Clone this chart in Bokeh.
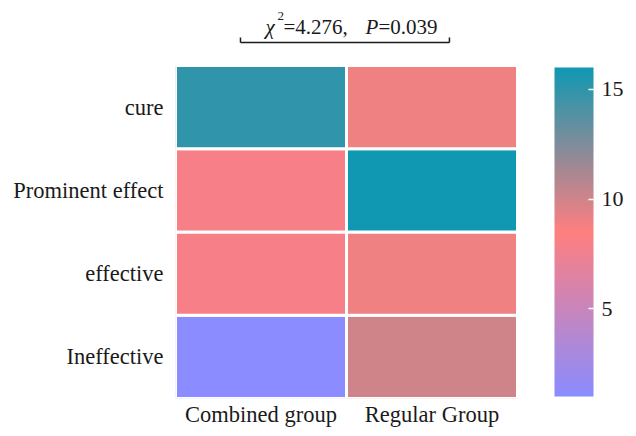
import numpy as np
from bokeh.plotting import figure
from bokeh.models import (LinearColorMapper, ColorBar, FixedTicker, Label, Arrow,
                          ColumnDataSource, Range1d)
from bokeh.embed import file_html
from bokeh.resources import INLINE

# ---------------- data ----------------
groups = ["Combined group", "Regular Group"]
outcomes = ["Ineffective", "effective", "Prominent effect", "cure"]  # bottom -> top
combined = [1, 8, 8, 15]
regular = [10, 9, 16, 9]
cbar_ticks = [5, 10, 15]
cbar_low, cbar_high = 1, 16
stat_chi = "=4.276,"
stat_p = "=0.039"

# ---------------- palette (blue-violet -> salmon -> teal) ----------------
anchor_vals = [cbar_low, 8.5, cbar_high]
anchor_rgb = [(138, 140, 255), (255, 127, 128), (16, 152, 178)]
grid = np.linspace(cbar_low, cbar_high, 256)
chan = [np.interp(grid, anchor_vals, [c[i] for c in anchor_rgb]) for i in range(3)]
palette = ["#%02x%02x%02x" % (int(round(r)), int(round(g)), int(round(b)))
           for r, g, b in zip(*chan)]
mapper = LinearColorMapper(palette=palette, low=cbar_low, high=cbar_high)

xs, ys, vs = [], [], []
for gi, col in enumerate([combined, regular]):
    for oi, v in enumerate(col):
        xs.append(gi + 0.5); ys.append(oi + 0.5); vs.append(v)
src = ColumnDataSource(dict(x=xs, y=ys, v=vs))

FONT = "Liberation Serif"
W, H = 636, 436
LEFT, BOTTOM = 175, 38
# heatmap cells occupy 342 x 333 px; extra room above/right for annotations
x_end = len(groups) * (W - LEFT) / 342.0
y_end = len(outcomes) * (H - BOTTOM) / 333.0

p = figure(width=W, height=H, x_range=Range1d(0, x_end), y_range=Range1d(0, y_end),
           output_backend="svg", toolbar_location=None,
           min_border_left=LEFT, min_border_right=0,
           min_border_top=0, min_border_bottom=BOTTOM)
p.rect(x="x", y="y", width=1, height=1, source=src,
       fill_color={"field": "v", "transform": mapper},
       line_color="white", line_width=3)

p.outline_line_color = None
p.xgrid.grid_line_color = None
p.ygrid.grid_line_color = None
p.xaxis.ticker = FixedTicker(ticks=[i + 0.5 for i in range(len(groups))])
p.xaxis.major_label_overrides = {i + 0.5: g for i, g in enumerate(groups)}
p.yaxis.ticker = FixedTicker(ticks=[i + 0.5 for i in range(len(outcomes))])
p.yaxis.major_label_overrides = {i + 0.5: o for i, o in enumerate(outcomes)}
for ax in (p.xaxis[0], p.yaxis[0]):
    ax.axis_line_color = None
    ax.major_tick_line_color = None
    ax.minor_tick_line_color = None
    ax.major_tick_in = 0
    ax.major_tick_out = 0
    ax.minor_tick_in = 0
    ax.minor_tick_out = 0
    ax.major_label_text_font = FONT
    ax.major_label_text_font_size = "22.5px"
    ax.major_label_text_color = "#1a1a1a"
p.xaxis.major_label_standoff = 3
p.yaxis.major_label_standoff = 12

cb = ColorBar(color_mapper=mapper, ticker=FixedTicker(ticks=cbar_ticks),
              width=39, height=329, padding=0, margin=0,
              location=(379, 2),
              major_label_text_font=FONT, major_label_text_font_size="22px",
              major_label_text_color="#1a1a1a",
              major_tick_line_color="white", major_tick_line_width=1.5,
              major_tick_in=5, major_tick_out=0,
              minor_tick_line_color=None,
              bar_line_color=None, border_line_color=None,
              background_fill_color=None, label_standoff=8)
p.add_layout(cb)

# statistics annotation above the heatmap
top = len(outcomes)
common = dict(x=0, y=top, text_font=FONT, text_color="#1a1a1a",
              text_baseline="alphabetic", text_align="left")
p.add_layout(Label(text="χ", x_offset=90, y_offset=39, text_font_size="21px",
                   text_font_style="italic", **common))
p.add_layout(Label(text="2", x_offset=102, y_offset=50, text_font_size="13px", **common))
p.add_layout(Label(text=stat_chi, x_offset=108, y_offset=39, text_font_size="21px", **common))
p.add_layout(Label(text="P", x_offset=190, y_offset=39, text_font_size="21px",
                   text_font_style="italic", **common))
p.add_layout(Label(text=stat_p, x_offset=203, y_offset=39, text_font_size="21px", **common))

br = ColumnDataSource(dict(x0=[0.38, 0.38, 1.602], y0=[4.276, 4.276, 4.276],
                           x1=[1.602, 0.38, 1.602], y1=[4.276, 4.336, 4.336]))
p.add_layout(Arrow(end=None, source=br, x_start="x0", y_start="y0",
                   x_end="x1", y_end="y1", line_color="#1a1a1a", line_width=1.5))

open("out.html", "w").write(file_html(p, INLINE))
